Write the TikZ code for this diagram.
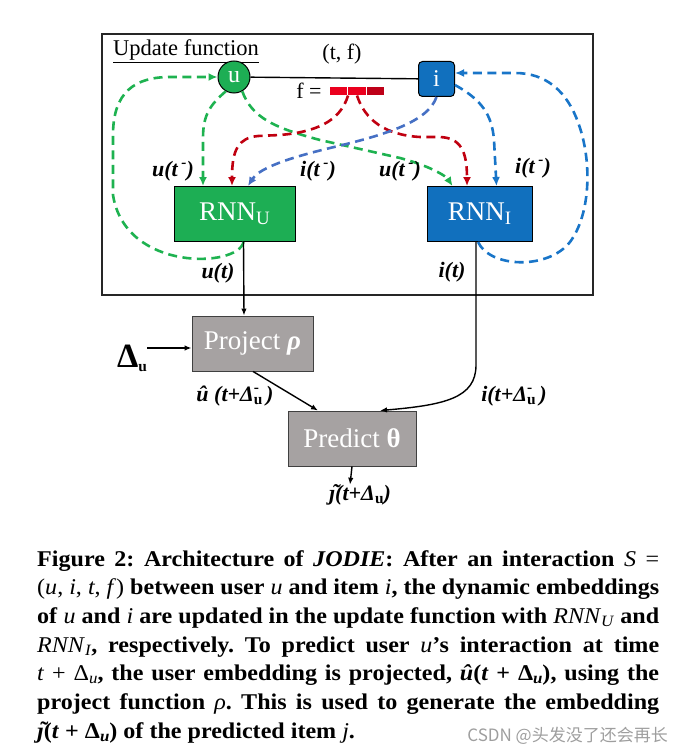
\documentclass[tikz,border=0pt]{standalone}
\usepackage{fontspec}
\setmainfont{Liberation Serif}
\newfontfamily\capfont[FakeStretch=1.07]{Liberation Serif}
\newfontfamily\cjk{Noto Sans CJK SC}
\usetikzlibrary{arrows.meta,positioning}
\hyphenpenalty=10000

\definecolor{rnngreen}{RGB}{29,174,84}
\definecolor{rnnblue}{RGB}{17,112,190}
\definecolor{opgray}{RGB}{166,162,162}
\definecolor{dgreen}{RGB}{30,178,80}
\definecolor{dred}{RGB}{192,0,16}
\definecolor{dblue}{RGB}{25,117,200}
\definecolor{lblue}{RGB}{70,112,196}
\definecolor{barred}{RGB}{235,0,30}
\definecolor{bardark}{RGB}{190,0,24}

\newcommand{\subtx}[1]{\raisebox{-0.3ex}{\scalebox{0.7}{#1}}}
\newcommand{\suptx}[1]{\raisebox{0.9ex}{\scalebox{0.7}{#1}}}
\newcommand{\dsu}{\textit{Δ}\rlap{\suptx{\textup{-}}}\subtx{\textup{u}}}
\newcommand{\mi}[1]{\textmd{\textit{#1}}}
\newcommand{\jtil}{\makebox[0pt][l]{\hspace{0.14em}\raisebox{0.05ex}{˜}}\textit{ȷ}}

\begin{document}
\begin{tikzpicture}[x=1pt,y=-1pt,
    lab/.style={font=\fontsize{22}{24}\selectfont\bfseries\itshape,inner sep=0pt},
    rnnbox/.style={draw=black,line width=0.9pt,minimum height=55pt,text=white,
      font=\fontsize{27}{30}\selectfont,inner sep=0pt},
    opbox/.style={rnnbox,fill=opgray,draw=black!75},
    bar/.style={draw=white,line width=0.6pt,minimum width=18.5pt,minimum height=8.5pt,inner sep=0pt},
    dsh/.style={line width=2.6pt,dash pattern=on 9pt off 5.5pt,
      -{Latex[length=9pt,width=8pt]}},
    gdash/.style={dsh,dgreen},
    rdash/.style={dsh,dred},
    bdash/.style={dsh,dblue},
    ldash/.style={dsh,lblue},
    flow/.style={line width=1.4pt,-{Latex[length=7pt,width=5.5pt]}}]
    \useasboundingbox (0,0) rectangle (685,754);

    % update function
    \node[draw=black!85,line width=1.5pt,minimum width=491pt,minimum height=261pt,inner sep=0pt] (frame) at (347.5,164.5) {};
    \node[anchor=base west,font=\fontsize{22.5}{24}\selectfont,inner sep=0pt] (title) at (113,56) {\underline{Update function}};
    \node[font=\fontsize{22}{24}\selectfont,inner sep=0pt] (tf) at (342,54) {(t, f)};

    \node[circle,fill=rnngreen,draw=black,line width=1pt,minimum size=32pt,inner sep=0pt,
      text=white,font=\fontsize{24}{24}\selectfont] (u) at (234,77) {u};
    \node[rounded corners=4pt,fill=rnnblue,draw=black,line width=1pt,minimum width=36pt,minimum height=35pt,
      inner sep=0pt,text=white,font=\fontsize{24}{24}\selectfont] (i) at (436.5,79) {i};
    \draw[line width=1.4pt] (u) -- (i);

    \node[font=\fontsize{22}{24}\selectfont,inner sep=0pt] (feq) at (309,91) {f =};
    \node[bar,fill=barred] (f1) at (338.5,91) {};
    \node[bar,fill=barred] (f2) at (357,91) {};
    \node[bar,fill=bardark] (f3) at (375.5,91) {};

    \node[rnnbox,fill=rnngreen,minimum width=121pt] (rnnu) at (234.5,214) {RNN\subtx{U}};
    \node[rnnbox,fill=rnnblue,minimum width=105pt] (rnni) at (479.5,214) {RNN\subtx{I}};

    % embeddings from t^-
    \draw[gdash] ([xshift=9pt]rnnu.south) .. controls (238,268) and (125,272) .. (113,195)
      -- (113,135) .. controls (113,92) and (135,77) .. (170,77) -- (u.west);
    \draw[gdash] (u.240) .. controls (210,105) and (203,115) .. (203,138) -- ([xshift=-31.5pt]rnnu.north);
    \draw[gdash] (u.300) .. controls (252,118) and (275,128) .. (320,140) -- (400,158)
      .. controls (430,166) and (446,176) .. ([xshift=-27pt]rnni.north);
    \draw[rdash] (f1.south east) .. controls (340,122) and (315,132) .. (280,135) -- (258,136)
      .. controls (238,138) and (232,150) .. ([xshift=-2.5pt]rnnu.north);
    \draw[rdash] (f2.south) .. controls (365,120) and (385,135) .. (420,137) -- (440,137)
      .. controls (460,138) and (467,150) .. ([xshift=-12.5pt]rnni.north);
    \draw[ldash] (i.south) .. controls (428,122) and (385,135) .. (330,148)
      .. controls (280,160) and (258,170) .. ([xshift=13.5pt]rnnu.north);
    \draw[bdash] ([yshift=-6pt]i.east) .. controls (482,100) and (492,115) .. (494,140) -- ([xshift=17pt]rnni.north);
    \draw[bdash] ([xshift=-1.5pt]rnni.south) .. controls (490,268) and (548,270) .. (570,242)
      .. controls (590,215) and (592,165) .. (580,128) .. controls (568,90) and (545,73) .. (515,73)
      -- ([yshift=6pt]i.east);

    \node[lab] (lu1) at (173,171) {u(t\,\suptx{-})};
    \node[lab] (li1) at (318,171) {i(t\,\suptx{-})};
    \node[lab] (lu2) at (400,171) {u(t\,\suptx{-})};
    \node[lab] (li2) at (533,168) {i(t\,\suptx{-})};
    \node[lab] (lut) at (218,273) {u(t)};
    \node[lab] (lit) at (452,272) {i(t)};

    % projection and prediction
    \node[opbox,minimum width=121pt] (proj) at (252.5,343.5) {Project \textbf{\textit{ρ}}};
    \node[opbox,minimum width=128pt] (pred) at (352,438.5) {Predict \textbf{θ}};
    \node[anchor=base,font=\fontsize{34}{36}\selectfont\bfseries,inner sep=0pt] (du) at (132,367) {Δ\subtx{\fontsize{22}{22}\selectfont u}};

    \node[lab] (luh) at (235,396) {û (t+\dsu\,)};
    \node[lab] (lih) at (514,396) {i(t+\dsu\,)};
    \node[lab] (jt) at (360,495) {\jtil(t+\textit{Δ}\subtx{\textup{u}})};

    \draw[flow] ([xshift=9pt]rnnu.south) -- ([xshift=-8.5pt]proj.north);
    \draw[flow] ([xshift=-3.5pt]rnni.south) -- (476,365) .. controls (476,398) and (445,405) .. ([xshift=28pt]pred.north);
    \draw[flow] ([yshift=19pt]du.base east) -- ([yshift=19pt]du.base east -| proj.west);
    \draw[flow] ([xshift=0.5pt]proj.south) -- ([xshift=-34pt]pred.north);
    \draw[flow] (pred.south) -- ([xshift=-10pt]jt.north);

    % caption
    \node[anchor=north west,text width=622pt,align=justify,inner sep=0pt,
      font=\capfont\fontsize{22.5}{28.7}\selectfont\bfseries] (cap) at (37,550) {\frenchspacing
      Figure 2: Architecture of \textit{JODIE}: After an interaction \mi{S} \textmd{=}\linebreak
      \textmd{(\textit{u}, \textit{i}, \textit{t}, \textit{f})} between user \mi{u} and item \mi{i}, the dynamic embeddings\linebreak
      of \mi{u} and \mi{i} are updated in the update function with \mi{RNN}\subtx{\mi{U}} and\linebreak
      \mi{RNN}\subtx{\mi{I}}, respectively. To predict user \mi{u}’s interaction at time\linebreak
      \mi{t} \textmd{+ Δ}\subtx{\mi{u}}, the user embedding is projected, \textit{û}(\textit{t} + Δ\subtx{\textit{u}}), using the\linebreak
      project function \mi{ρ}. This is used to generate the embedding\linebreak
      \jtil(\textit{t} + Δ\subtx{\textit{u}}) of the predicted item \mi{j}.\par};
    \node[anchor=base east,font=\cjk\fontsize{17}{17}\selectfont,text=black!38,inner sep=0pt] (wm) at (668,741) {CSDN @头发没了还会再长};
  \end{tikzpicture}
\end{document}
